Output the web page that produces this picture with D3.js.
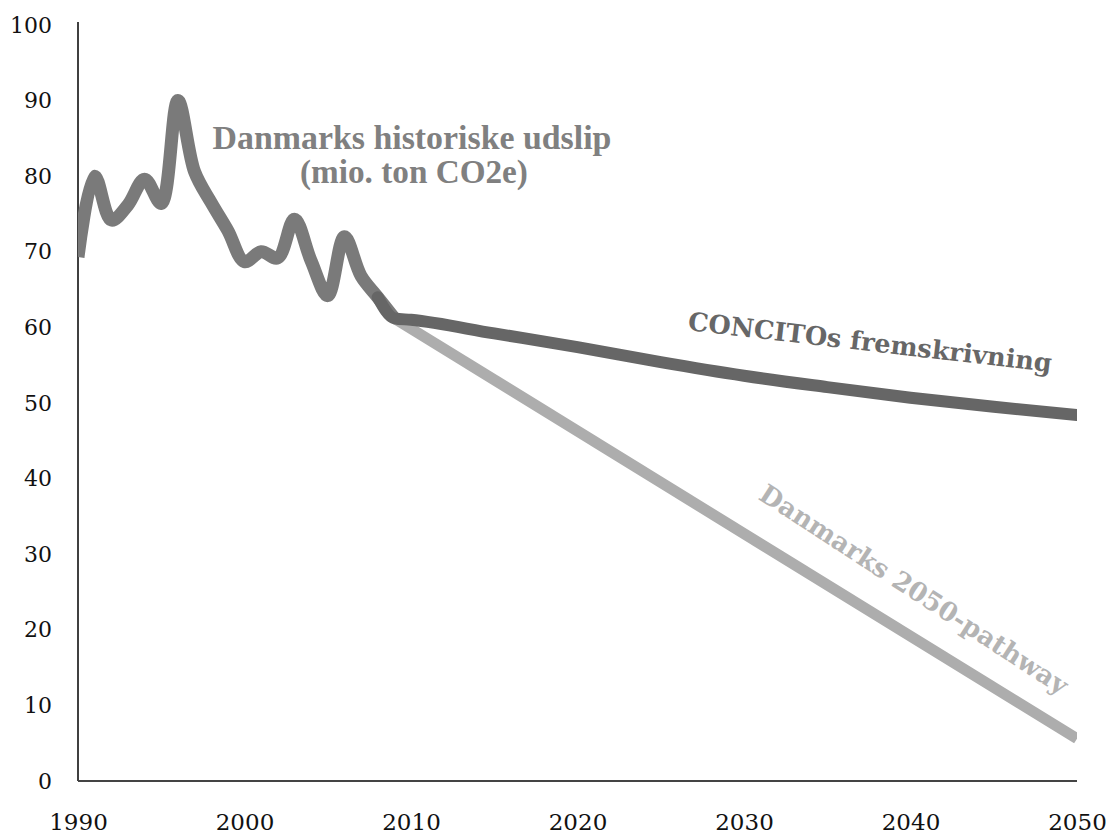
<!DOCTYPE html>
<html>
<head>
<meta charset="utf-8">
<script src="https://cdn.jsdelivr.net/npm/d3@7"></script>
<style>
  html, body { margin: 0; padding: 0; background: #fff; }
  svg { display: block; }
</style>
</head>
<body>
<svg id="chart" width="1109" height="834"></svg>
<script>
// ---- Data ----
const histYears  = [1990,1991,1992,1993,1994,1995,1996,1997,1998,1999,2000,2001,2002,2003,2004,2005,2006,2007,2008,2009];
const histValues = [69.3,80.0,74.2,76.2,79.6,76.4,90.0,80.6,76.5,72.8,68.7,70.0,69.2,74.3,68.8,64.2,72.0,66.8,64.0,61.2];

const concitoYears  = [2008,2009,2010,2015,2020,2025,2030,2035,2040,2045,2050];
const concitoValues = [64.0,61.2,61.0,59.2,57.4,55.4,53.6,52.1,50.7,49.5,48.4];

const pathwayYears  = [2009,2050];
const pathwayValues = [61.2,5.6];

const xTicks = [1990,2000,2010,2020,2030,2040,2050];
const yTicks = [0,10,20,30,40,50,60,70,80,90,100];

const labelHist1 = "Danmarks historiske udslip";
const labelHist2 = "(mio. ton CO2e)";
const labelConcito = "CONCITOs fremskrivning";
const labelPathway = "Danmarks 2050-pathway";

// ---- Layout ----
const svg = d3.select("#chart");
const x = d3.scaleLinear().domain([1990, 2050]).range([78, 1077]);
const y = d3.scaleLinear().domain([0, 100]).range([781, 25]);

const tickFont = "'DejaVu Serif', Georgia, serif";

svg.append("defs").append("clipPath").attr("id", "plot")
  .append("rect").attr("x", x(1990)).attr("y", 0)
  .attr("width", x(2050) - x(1990)).attr("height", 834);

// Y axis
const yAxis = d3.axisLeft(y).tickValues(yTicks).tickSize(0).tickPadding(26).tickFormat(d3.format("d"));
const gy = svg.append("g").attr("transform", `translate(${x(1990)},0)`).call(yAxis);
gy.select(".domain").attr("stroke", "#000").attr("stroke-width", 1.5).attr("d", `M0,${y(100) - 3}V${y(0)}`);
gy.selectAll("text").attr("font-family", tickFont).attr("font-size", 22).attr("fill", "#111");

// X axis
const xAxis = d3.axisBottom(x).tickValues(xTicks).tickSize(0).tickPadding(33).tickFormat(d3.format("d"));
const gx = svg.append("g").attr("transform", `translate(0,${y(0)})`).call(xAxis);
gx.select(".domain").attr("stroke", "#444").attr("stroke-width", 2.2).attr("d", `M${x(1990)},0H${x(2050)}`);
gx.selectAll("text").attr("font-family", tickFont).attr("font-size", 23).attr("fill", "#111");

// Lines
const plot = svg.append("g").attr("clip-path", "url(#plot)");
const mk = (ys, vs) => ys.map((d, i) => ({ year: d, v: vs[i] }));

const lineSmooth = d3.line().x(d => x(d.year)).y(d => y(d.v)).curve(d3.curveCatmullRom.alpha(0.5));
const lineMono = d3.line().x(d => x(d.year)).y(d => y(d.v)).curve(d3.curveMonotoneX);
const lineStraight = d3.line().x(d => x(d.year)).y(d => y(d.v));

plot.append("path").datum(mk(histYears, histValues))
  .attr("d", lineSmooth).attr("fill", "none").attr("stroke", "#7a7a7a")
  .attr("stroke-width", 13).attr("stroke-linejoin", "round");

plot.append("path").datum(mk(pathwayYears, pathwayValues))
  .attr("d", lineStraight).attr("fill", "none").attr("stroke", "#adadad")
  .attr("stroke-width", 11);

plot.append("path").datum(mk(concitoYears, concitoValues))
  .attr("d", lineMono).attr("fill", "none").attr("stroke", "#666666")
  .attr("stroke-width", 12).attr("stroke-linejoin", "round").attr("stroke-linecap", "round");

// Labels, fitted to a target width
function fitText(sel, target) {
  const len = sel.node().getComputedTextLength();
  const fs = parseFloat(sel.attr("font-size"));
  sel.attr("font-size", fs * target / len);
}

const histFont = "'Liberation Serif', 'Times New Roman', serif";
const t1 = svg.append("text").attr("x", 412).attr("y", 149).attr("text-anchor", "middle")
  .attr("font-family", histFont).attr("font-weight", "bold").attr("font-size", 28)
  .attr("fill", "#808080").text(labelHist1);
fitText(t1, 399);
const t2 = svg.append("text").attr("x", 414).attr("y", 183).attr("text-anchor", "middle")
  .attr("font-family", histFont).attr("font-weight", "bold").attr("font-size", 28)
  .attr("fill", "#808080").text(labelHist2);
fitText(t2, 228);

const labFont = "'DejaVu Serif', Georgia, serif";
const t3 = svg.append("text").attr("text-anchor", "middle")
  .attr("transform", "translate(869,351) rotate(6.6)")
  .attr("font-family", labFont).attr("font-weight", "bold").attr("font-size", 24)
  .attr("fill", "#676767").text(labelConcito);
fitText(t3, 366);

const t4 = svg.append("text").attr("text-anchor", "middle")
  .attr("transform", "translate(909,597) rotate(33)")
  .attr("font-family", labFont).attr("font-weight", "bold").attr("font-size", 24)
  .attr("fill", "#b4b4b4").text(labelPathway);
fitText(t4, 362);
</script>
</body>
</html>
